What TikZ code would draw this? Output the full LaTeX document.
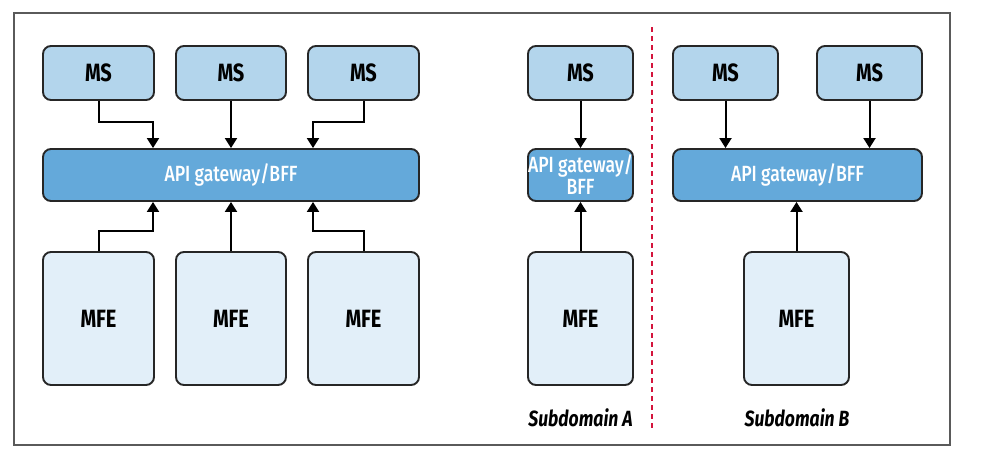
\documentclass[tikz,border=0pt]{standalone}
\usepackage{fontspec}
\setmainfont{Fira Sans}[FakeStretch=0.8]
\newfontfamily\gwfont{Fira Sans Medium}[FakeStretch=0.8]
\usetikzlibrary{arrows.meta}
\definecolor{msfill}{HTML}{B3D5EC}
\definecolor{gwfill}{HTML}{64A9DA}
\definecolor{mfefill}{HTML}{E2EFF9}
\definecolor{framegray}{HTML}{5A5A5A}
\definecolor{divred}{HTML}{D4143C}
\begin{document}
\begin{tikzpicture}[x=1pt,y=-1pt,
  box/.style={draw=black!85, line width=1.9pt, rounded corners=8pt, inner sep=0pt, align=center},
  msbox/.style={box, fill=msfill, minimum height=54pt, font=\fontsize{25}{26}\selectfont\bfseries},
  gwbox/.style={box, fill=gwfill, minimum height=52pt, text=white, font=\gwfont\fontsize{22}{22}\selectfont},
  mfebox/.style={box, fill=mfefill, minimum height=133pt, font=\fontsize{25}{26}\selectfont\bfseries},
  arr/.style={draw=black, line width=2pt, -{Triangle[width=12pt,length=10pt]}},
  lbl/.style={font=\fontsize{22}{24}\selectfont\bfseries\itshape}]
\useasboundingbox (0,0) rectangle (988,455);
\draw[framegray, line width=1.6pt] (14,13) rectangle (950,445);

% left group
\node[msbox, minimum width=111pt] (ms1) at (98.5,73) {MS};
\node[msbox, minimum width=110pt] (ms2) at (231,73) {MS};
\node[msbox, minimum width=111pt] (ms3) at (363.5,73) {MS};
\node[gwbox, minimum width=376pt] (gw) at (231,175) {API gateway/BFF};
\node[mfebox, minimum width=111pt] (mfe1) at (98.5,318.5) {MFE};
\node[mfebox, minimum width=110pt] (mfe2) at (231,318.5) {MFE};
\node[mfebox, minimum width=111pt] (mfe3) at (363.5,318.5) {MFE};

\draw[arr] (ms1.south) -- ++(0,21) -| ([xshift=-78pt]gw.north);
\draw[arr] (ms2.south) -- (gw.north);
\draw[arr] (ms3.south) -- ++(0,21) -| ([xshift=82pt]gw.north);
\draw[arr] (mfe1.north) -- ++(0,-20) -| ([xshift=-78pt]gw.south);
\draw[arr] (mfe2.north) -- (gw.south);
\draw[arr] (mfe3.north) -- ++(0,-20) -| ([xshift=82pt]gw.south);

% subdomain A
\node[msbox, minimum width=105pt] (msa) at (580.5,73) {MS};
\node[gwbox, minimum width=105pt] (gwa) at (580.5,175) {API gateway/\\BFF};
\node[mfebox, minimum width=105pt] (mfea) at (580.5,318.5) {MFE};
\draw[arr] (msa.south) -- (gwa.north);
\draw[arr] (mfea.north) -- (gwa.south);
\node[lbl] (lbla) at (580.5,418) {Subdomain A};

% divider
\coordinate (dtop) at (652,27);
\coordinate (dbot) at (652,428);
\draw[divred, line width=1.6pt, dash pattern=on 5pt off 4pt] (dtop) -- (dbot);

% subdomain B
\node[msbox, minimum width=105pt] (msb1) at (725.5,73) {MS};
\node[msbox, minimum width=105pt] (msb2) at (869.5,73) {MS};
\node[gwbox, minimum width=249pt] (gwb) at (797.5,175) {API gateway/BFF};
\node[mfebox, minimum width=105pt] (mfeb) at (796.5,318.5) {MFE};
\draw[arr] (msb1.south) -- (msb1.south |- gwb.north);
\draw[arr] (msb2.south) -- (msb2.south |- gwb.north);
\draw[arr] (mfeb.north) -- (mfeb.north |- gwb.south);
\node[lbl] (lblb) at (797,418) {Subdomain B};
\end{tikzpicture}
\end{document}
